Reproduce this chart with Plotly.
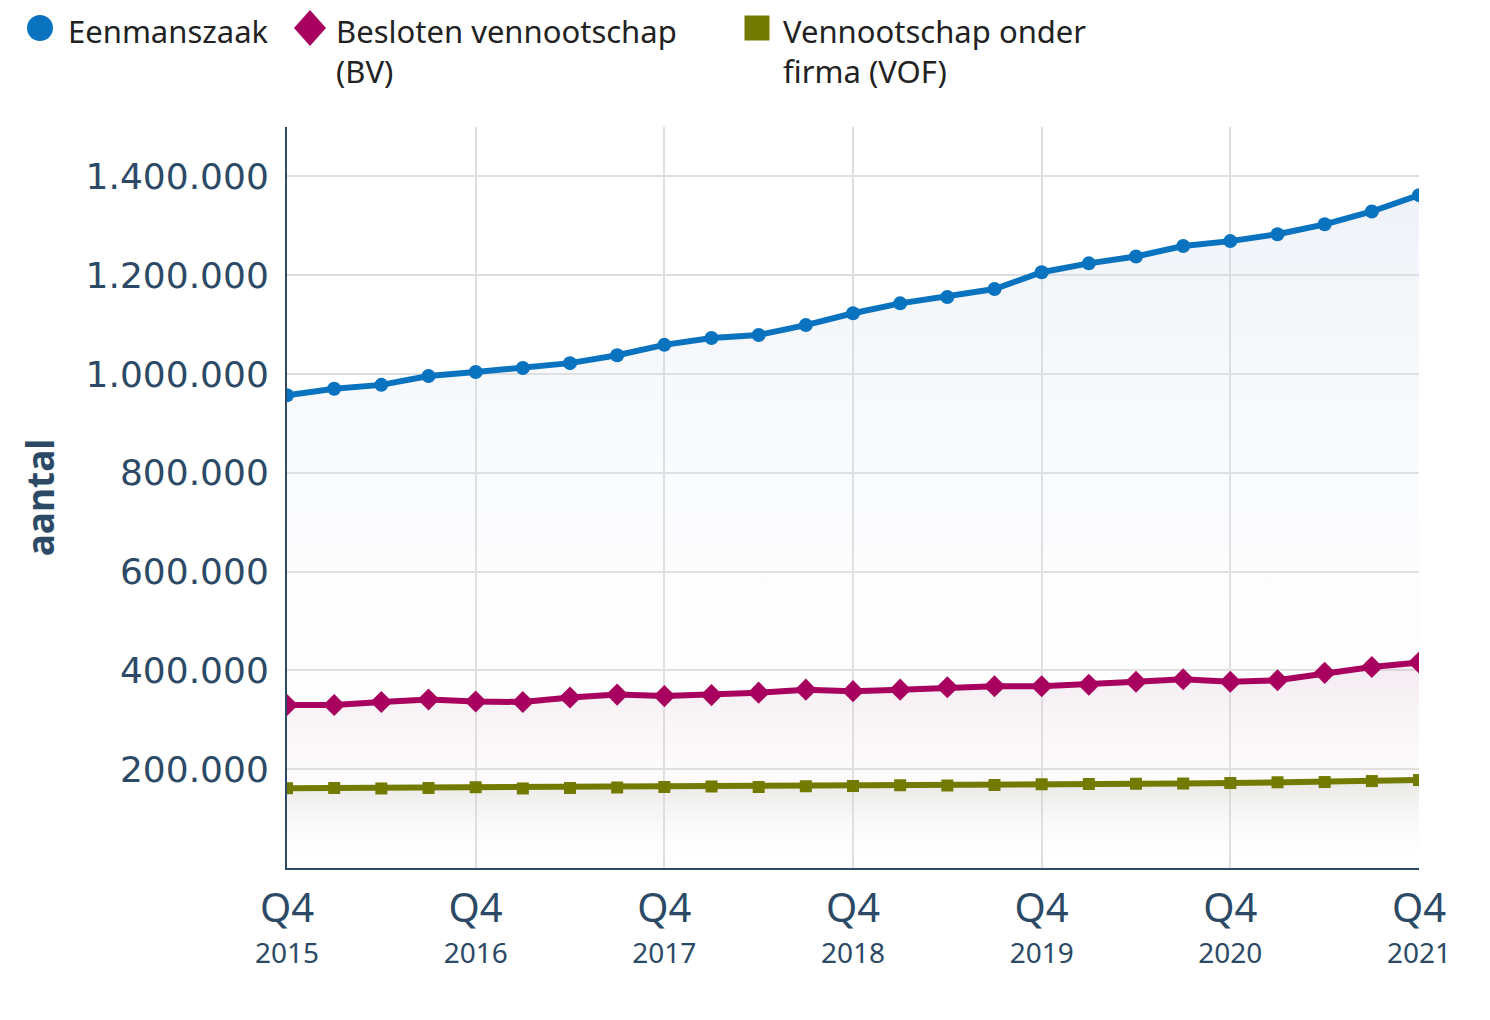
import plotly.graph_objects as go

quarters = [f"{y} Q{q}" for y, q in
            [(2015, 4)] + [(y, q) for y in range(2016, 2022) for q in (1, 2, 3, 4)]]

eenmanszaak = [957000, 970000, 978000, 996000, 1004000, 1012000, 1022000, 1038000,
               1059000, 1073000, 1079000, 1099000, 1123000, 1143000, 1156000, 1172000,
               1206000, 1224000, 1238000, 1259000, 1269000, 1283000, 1303000, 1329000,
               1362000]
bv = [330000, 330000, 336000, 341000, 337000, 336000, 345000, 351000,
      348000, 350000, 355000, 361000, 358000, 361000, 366000, 368000,
      368000, 371000, 377000, 382000, 377000, 380000, 395000, 407000,
      416000]
vof = [161500, 162000, 161000, 162000, 163500, 161000, 162000, 163000,
       164000, 165000, 164000, 165500, 166000, 167500, 167000, 168000,
       169500, 170000, 170500, 171000, 172000, 173500, 174000, 176000,
       178000]

series_names = ["Eenmanszaak", "Besloten vennootschap<br>(BV)", "Vennootschap onder<br>firma (VOF)"]
colors = ["#0a73bf", "#a8005f", "#737a00"]
fill_top = ["rgba(205,216,232,0.32)", "rgba(215,180,200,0.26)", "rgba(190,190,180,0.32)"]
symbols = ["circle", "diamond", "square"]
msizes = [14, 17, 12]

tick_q = [q for q in quarters if q.endswith("Q4")]
tick_txt = [f"<span style='font-size:40px'>Q4</span><br>"
            f"<span style='font-size:28px'>{q[:4]}</span>" for q in tick_q]

AXC = "#2c4a66"
OFF = 8  # page body margin
W, H = 1490, 1020
L, T = 287 - OFF, 127 - OFF
R = W - (1419 - OFF)
B = H - (868 - OFF)
PW, PH = W - L - R, H - T - B


def px_x(px):
    return (px - OFF - L) / PW


def px_y(py):
    return (H - B - (py - OFF)) / PH


fig = go.Figure()
for name, ys, c, ft, sym, ms in zip(series_names, [eenmanszaak, bv, vof], colors, fill_top, symbols, msizes):
    fig.add_trace(go.Scatter(
        x=quarters, y=ys, mode="lines+markers", name=name, showlegend=False,
        line=dict(color=c, width=6), marker=dict(symbol=sym, size=ms, color=c),
        fill="tozeroy",
        fillgradient=dict(type="vertical", start=0, stop=max(ys),
                          colorscale=[[0, "rgba(255,255,255,0)"], [1, ft]]),
        hoverinfo="skip"))

# manual legend (symbols + text)
leg_sym_x = [40, 310, 757]
leg_txt_x = [67, 335, 782]
shapes = []
annotations = []
cy = 28
for sym, c, sx, tx, name in zip(symbols, colors, leg_sym_x, leg_txt_x, series_names):
    if sym == "circle":
        r = 13
        shapes.append(dict(type="circle", xref="paper", yref="paper",
                           x0=px_x(sx - r), x1=px_x(sx + r), y0=px_y(cy + r), y1=px_y(cy - r),
                           fillcolor=c, line=dict(width=0)))
    elif sym == "diamond":
        hw, hh = 16, 18
        path = (f"M {px_x(sx)} {px_y(cy - hh)} L {px_x(sx + hw)} {px_y(cy)} "
                f"L {px_x(sx)} {px_y(cy + hh)} L {px_x(sx - hw)} {px_y(cy)} Z")
        shapes.append(dict(type="path", xref="paper", yref="paper", path=path,
                           fillcolor=c, line=dict(width=0)))
    else:
        h = 12.5
        shapes.append(dict(type="rect", xref="paper", yref="paper",
                           x0=px_x(sx - h), x1=px_x(sx + h), y0=px_y(cy + h), y1=px_y(cy - h),
                           fillcolor=c, line=dict(width=0)))
    annotations.append(dict(text=name, xref="paper", yref="paper",
                            x=px_x(tx), y=px_y(OFF + 0.5),
                            xanchor="left", yanchor="top", align="left", showarrow=False,
                            borderpad=0,
                            font=dict(size=31, family="Noto Sans", color="#222222")))

fig.update_layout(
    width=W, height=H,
    margin=dict(l=L, r=R, t=T, b=B, autoexpand=False),
    paper_bgcolor="white", plot_bgcolor="white",
    separators=",.",
    showlegend=False,
    shapes=shapes, annotations=annotations,
    font=dict(family="Noto Sans, Open Sans, sans-serif", color=AXC),
    xaxis=dict(type="category", range=[0, 24], tickvals=tick_q, ticktext=tick_txt,
               showgrid=True, gridcolor="#dedede", gridwidth=2,
               showline=True, linecolor=AXC, linewidth=2, zeroline=False,
               ticks="", tickfont=dict(size=31, family="Noto Sans", color=AXC),
               ticklabelstandoff=15),
    yaxis=dict(range=[0, 1500000], tickvals=[200000, 400000, 600000, 800000, 1000000, 1200000, 1400000],
               tickformat=",d", showgrid=True, gridcolor="#dedede", gridwidth=2,
               showline=True, linecolor=AXC, linewidth=2, zeroline=False,
               ticks="", tickfont=dict(size=36, family="DejaVu Sans", color=AXC),
               ticklabelstandoff=9,
               title=dict(text="<b>aantal</b>", font=dict(size=37, family="Noto Sans", color=AXC),
                          standoff=20)),
)
fig.write_html("out.html")
